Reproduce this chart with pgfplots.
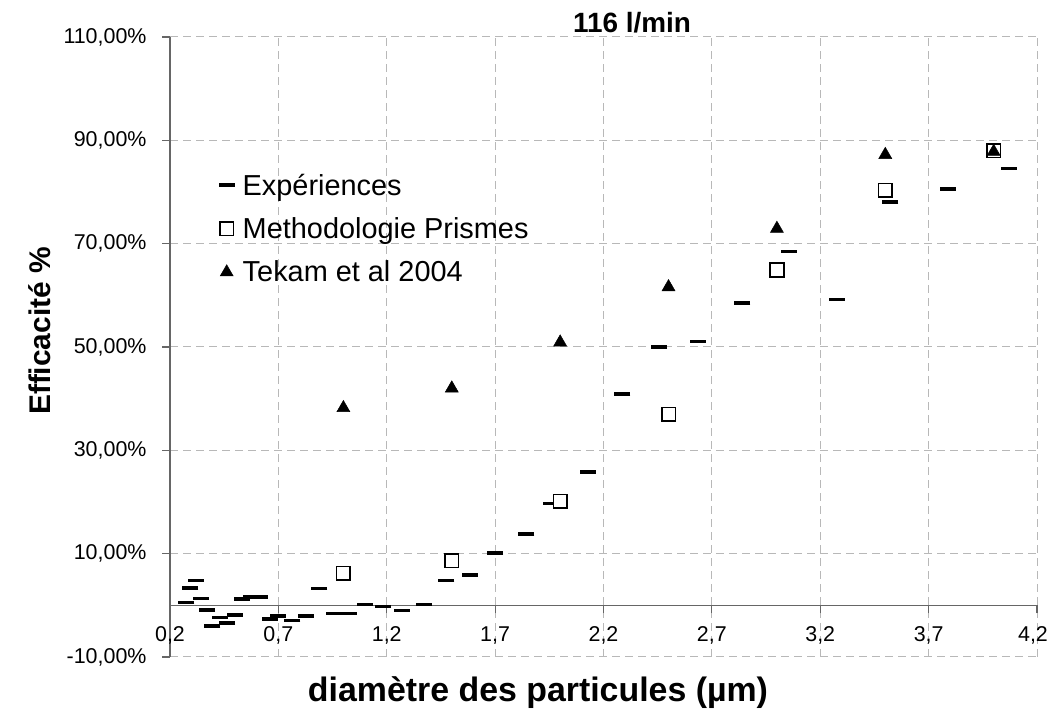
\documentclass[border=0pt]{standalone}
\usepackage{fontspec}
\setmainfont{Liberation Sans}
\usepackage{pgfplots}
\pgfplotsset{compat=1.18}
\begin{document}
\begin{tikzpicture}[x=1bp,y=1bp]
\path[use as bounding box] (0,0) rectangle (1050,712);
\begin{axis}[
  at={(170bp,55bp)}, anchor=south west,
  scale only axis, width=867bp, height=620bp,
  xmin=0.2, xmax=4.2, ymin=-10, ymax=110,
  axis x line=middle, axis y line=left,
  hide obscured x ticks=false, hide obscured y ticks=false,
  axis line style={-, draw=black!60, line width=1.2bp},
  xtick={0.2,0.7,1.2,1.7,2.2,2.7,3.2,3.7,4.2},
  xticklabels={{0,2},{0,7},{1,2},{1,7},{2,2},{2,7},{3,2},{3,7},{\hspace*{-8bp}4,2}},
  ytick={-10,10,30,50,70,90,110},
  tick align=outside,
  major tick length=8bp,
  tick style={draw=black!60, line width=1.2bp},
  /pgf/number format/assume math mode=true,
  yticklabel={\pgfmathprintnumber[fixed,fixed zerofill,precision=2,use comma]{\tick}\%},
  tick label style={font=\fontsize{21.5}{26}\selectfont},
  xticklabel style={anchor=base, yshift=-28bp},
  yticklabel style={xshift=-12bp},
  xmajorgrids, ymajorgrids,
  major grid style={dash pattern=on 8bp off 5bp, draw=black!28, line width=1bp},
  legend style={at={(rel axis cs:0.0525,0.786)}, anchor=north west, draw=none, fill=none,
    font=\fontsize{29}{35}\selectfont, row sep=17bp, column sep=8bp,
    nodes={inner xsep=0bp}},
  legend cell align=left,
  clip=false,
]
\addplot[only marks, mark=-, mark size=8bp, mark options={line width=3.5bp, black}] coordinates {
(0.275,0.5) (0.294,3.4) (0.319,4.8) (0.344,1.3) (0.371,-0.9) (0.395,-4.0) (0.429,-2.4)
(0.463,-3.4) (0.498,-1.9) (0.530,1.2) (0.575,1.6) (0.614,1.6) (0.661,-2.6) (0.697,-2.1)
(0.764,-2.9) (0.827,-2.1) (0.889,3.3) (0.955,-1.6) (1.024,-1.6) (1.10,0.2) (1.183,-0.2)
(1.269,-1.0) (1.37,0.2) (1.475,4.8) (1.584,5.9) (1.70,10.1) (1.844,13.8) (1.96,19.7)
(2.127,25.8) (2.287,40.9) (2.457,50.0) (2.635,51.1) (2.841,58.5) (3.054,68.5) (3.276,59.2)
(3.523,78.1) (3.788,80.6) (4.07,84.5)
};
\addlegendentry{Expériences}
\addplot[only marks, mark=square*, mark size=6.8bp, mark options={fill=white, draw=black, line width=1.6bp}] coordinates {
(1.0,6.2) (1.5,8.6) (2.0,20.1) (2.5,37.0) (3.0,64.9) (3.5,80.3) (4.0,88.0)
};
\addlegendentry{Methodologie Prismes}
\addplot[only marks, mark=triangle*, mark size=7.5bp, mark options={fill=black, draw=black, line width=0.5bp}] coordinates {
(1.0,38.2) (1.5,42.0) (2.0,50.9) (2.5,61.6) (3.0,72.9) (3.5,87.2) (4.0,87.8)
};
\addlegendentry{Tekam et al 2004}
\end{axis}
\node[font=\fontsize{28}{32}\selectfont\bfseries] at (632,689) {116 l/min};
\node[font=\fontsize{34}{40}\selectfont\bfseries] at (538,19) {diamètre des particules (µm)};
\node[font=\fontsize{30}{36}\selectfont\bfseries, rotate=90] at (40,381) {Efficacité \%};
\end{tikzpicture}
\end{document}
